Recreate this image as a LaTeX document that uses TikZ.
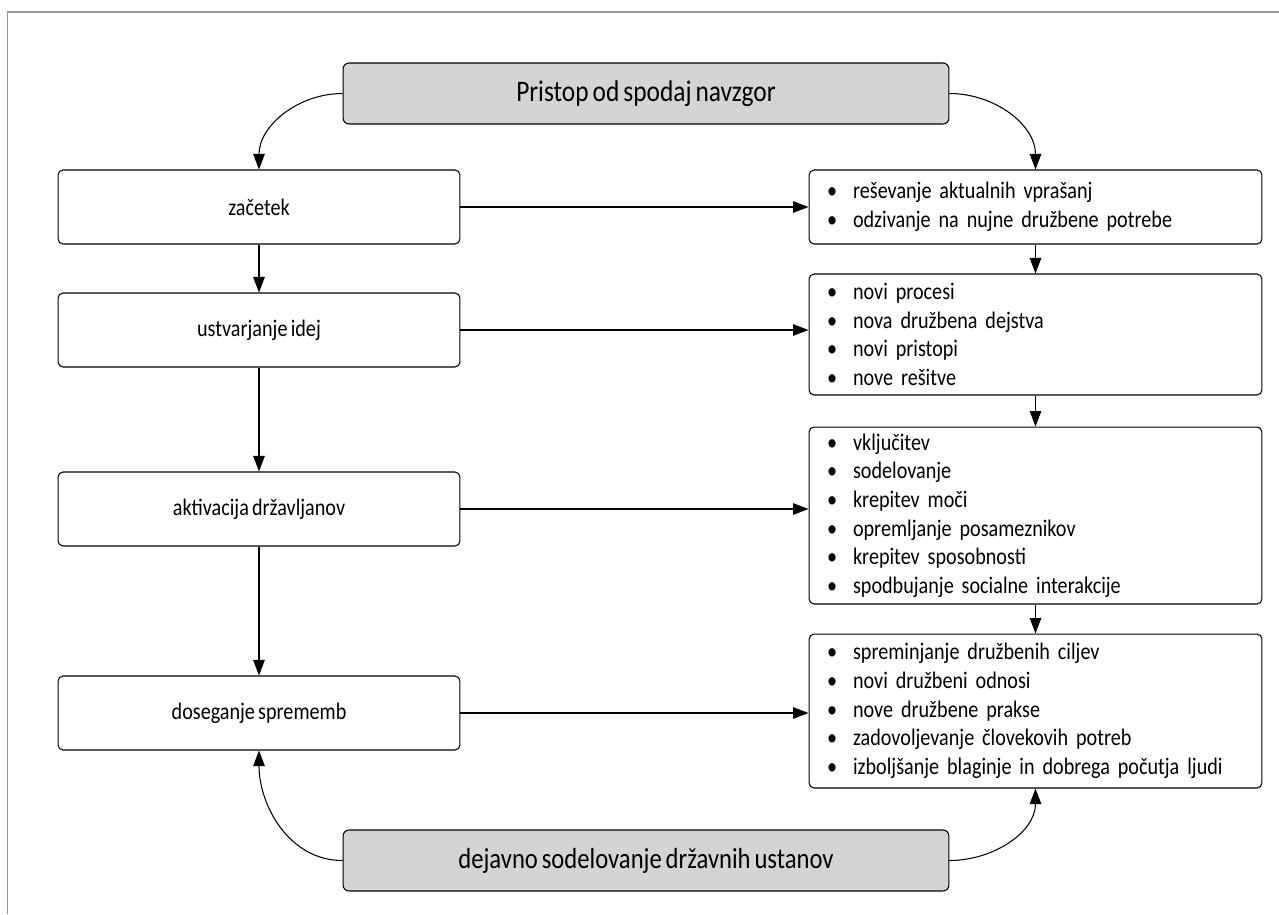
\documentclass[tikz,border=0pt]{standalone}
\usepackage{fontspec}
\setmainfont[FakeStretch = 0.85, WordSpace = 0.7]{Carlito}
\usetikzlibrary{arrows.meta}
\definecolor{boxgray}{RGB}{211,212,214}
\definecolor{framegray}{RGB}{150,150,150}
\newcommand{\itm}{\makebox[0.52cm][l]{\textbullet}}
\tikzset{
    stage/.style = {draw, rounded corners = 0.1cm, line width = 0.6pt, minimum width = 8.04cm, minimum height = 1.48cm, font = \fontsize{13.5}{16}\selectfont},
    result/.style = {draw, rounded corners = 0.1cm, line width = 0.6pt, text width = 8.34cm, inner xsep = 0.36cm, align = left, font = \fontsize{13.5}{16.3}\selectfont},
    actor/.style = {draw, fill = boxgray, rounded corners = 0.12cm, line width = 0.6pt, minimum width = 12.12cm, minimum height = 1.22cm},
    flow/.style = {-{Triangle[length = 0.31cm, width = 0.23cm]}, line width = 0.6pt}
}
\begin{document}
\begin{tikzpicture}[x = 0.02cm, y = -0.02cm]
        \useasboundingbox (0,0) rectangle (1279,914);
        \draw[framegray, line width = 0.9pt] (7.5,914) -- (7.5,12) -- (1279,12);
        % actors
        \node[actor, font = \fontsize{17}{20}\selectfont] (top) at (646,93.5) {Pristop od spodaj navzgor};
        \node[actor, font = \fontsize{16.5}{20}\selectfont] (bottom) at (646,860.5) {dejavno sodelovanje državnih ustanov};
        % stages
        \node[stage] (zacetek) at (259,207) {začetek};
        \node[stage] (ideje) at (259,330) {ustvarjanje idej};
        \node[stage] (aktivacija) at (259,509) {aktivacija državljanov};
        \node[stage] (spremembe) at (259,713) {doseganje sprememb};
        % results
        \node[result, minimum height = 1.48cm] (r1) at (1035.5,207) {\itm reševanje aktualnih vprašanj\\ \itm odzivanje na nujne družbene potrebe};
        \node[result, minimum height = 2.42cm] (r2) at (1035.5,334.5) {\itm novi procesi\\ \itm nova družbena dejstva\\ \itm novi pristopi\\ \itm nove rešitve};
        \node[result, minimum height = 3.54cm] (r3) at (1035.5,515.5) {\itm vključitev\\ \itm sodelovanje\\ \itm krepitev moči\\ \itm opremljanje posameznikov\\ \itm krepitev sposobnosti\\ \itm spodbujanje socialne interakcije};
        \node[result, minimum height = 3.08cm] (r4) at (1035.5,711) {\itm spreminjanje družbenih ciljev\\ \itm novi družbeni odnosi\\ \itm nove družbene prakse\\ \itm zadovoljevanje človekovih potreb\\ \itm izboljšanje blaginje in dobrega počutja ljudi};
        % connectors
        \draw[flow] (top.west) to[out = 180, in = 90] (zacetek.north);
        \draw[flow] (top.east) to[out = 0, in = 90] (r1.north);
        \draw[flow] (bottom.west) to[out = 180, in = -90] (spremembe.south);
        \draw[flow] (bottom.east) to[out = 0, in = -90] (r4.south);
        \draw[flow] (zacetek) -- (ideje);
        \draw[flow] (ideje) -- (aktivacija);
        \draw[flow] (aktivacija) -- (spremembe);
        \draw[flow] (r1) -- (r2);
        \draw[flow] (r2) -- (r3);
        \draw[flow] (r3) -- (r4);
        \draw[flow] (zacetek.east) -- (zacetek.east -| r1.west);
        \draw[flow] (ideje.east) -- (ideje.east -| r2.west);
        \draw[flow] (aktivacija.east) -- (aktivacija.east -| r3.west);
        \draw[flow] (spremembe.east) -- (spremembe.east -| r4.west);
\end{tikzpicture}
\end{document}
